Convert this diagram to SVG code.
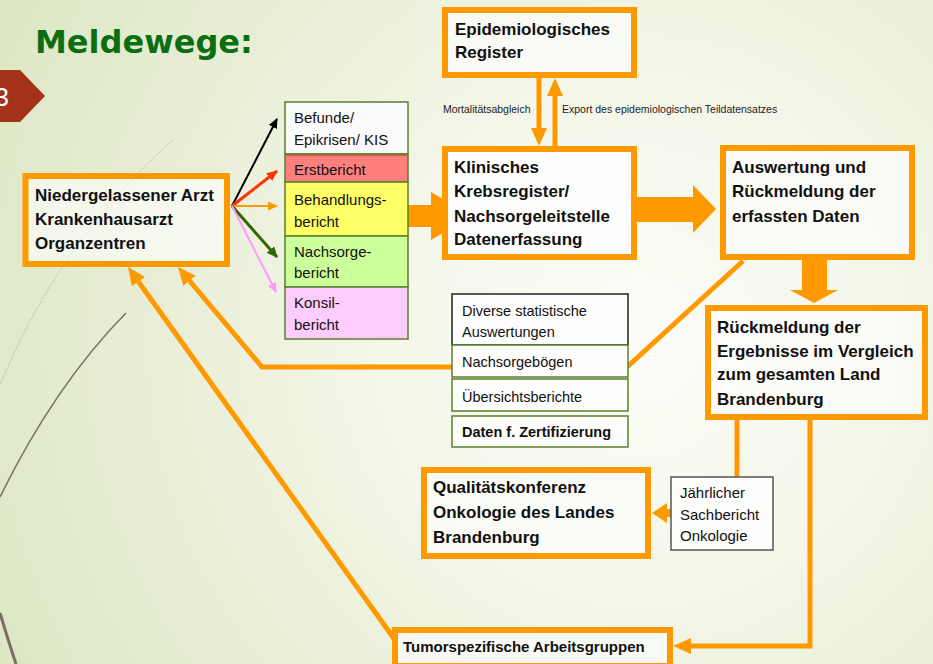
<svg xmlns="http://www.w3.org/2000/svg" width="933" height="664" viewBox="0 0 933 664">
<defs>
<radialGradient id="bg" gradientUnits="userSpaceOnUse" cx="640" cy="340" r="760">
<stop offset="0" stop-color="#fcfdf8"/>
<stop offset="0.35" stop-color="#f3f6e8"/>
<stop offset="1" stop-color="#dbe5c0"/>
</radialGradient>
<marker id="ah" markerUnits="userSpaceOnUse" markerWidth="18" markerHeight="16" viewBox="0 0 18 16" refX="3" refY="8" orient="auto"><path d="M0,0 L18,8 L0,16 z" fill="#ff9900"/></marker>
<marker id="mk" markerUnits="userSpaceOnUse" markerWidth="10" markerHeight="9" viewBox="0 0 10 9" refX="9" refY="4.5" orient="auto"><path d="M0,0 L10,4.5 L0,9 z" fill="#000"/></marker>
<marker id="mr" markerUnits="userSpaceOnUse" markerWidth="11" markerHeight="10" viewBox="0 0 11 10" refX="10" refY="5" orient="auto"><path d="M0,0 L11,5 L0,10 z" fill="#ff3300"/></marker>
<marker id="mo" markerUnits="userSpaceOnUse" markerWidth="10" markerHeight="9" viewBox="0 0 10 9" refX="9" refY="4.5" orient="auto"><path d="M0,0 L10,4.5 L0,9 z" fill="#ff9900"/></marker>
<marker id="mg" markerUnits="userSpaceOnUse" markerWidth="11" markerHeight="10" viewBox="0 0 11 10" refX="10" refY="5" orient="auto"><path d="M0,0 L11,5 L0,10 z" fill="#336600"/></marker>
<marker id="mp" markerUnits="userSpaceOnUse" markerWidth="10" markerHeight="9" viewBox="0 0 10 9" refX="9" refY="4.5" orient="auto"><path d="M0,0 L10,4.5 L0,9 z" fill="#ff99ff"/></marker>
</defs>
<style>
.ob{fill:#ffffff;fill-opacity:.6;stroke:#ff9900;stroke-width:6}
.bt{font-family:"Liberation Sans",Arial,sans-serif;font-weight:bold;font-size:17px;fill:#111}
.rt{font-family:"Liberation Sans",Arial,sans-serif;font-size:15px;fill:#111}
.st{font-family:"Liberation Sans",Arial,sans-serif;font-size:10.5px;fill:#222}
.cb{stroke:#5b7f2a;stroke-width:1.5}
.con{fill:none;stroke:#ff9900;stroke-width:5}
.blk{fill:#ff9900}
</style>
<rect width="933" height="664" fill="url(#bg)"/>
<g id="decor" fill="none">
<path d="M173,140 Q60,240 0,385" stroke="#b5b5a5" stroke-width="1" stroke-dasharray="3,1" opacity="0.7"/>
<path d="M126,313 Q55,385 0,497" stroke="#7a7060" stroke-width="1.5"/>
<path d="M0,613 Q8,640 16,664" stroke="#7a7060" stroke-width="3"/>
</g>
<g id="title">
<text x="35" y="53" font-family="DejaVu Sans,sans-serif" font-weight="bold" font-size="32" fill="#0b6e12">Meldewege:</text>
<polygon points="0,70 20,70 45,96 20,122 0,122" fill="#a33218"/>
<text x="9" y="106" text-anchor="end" font-family="Liberation Sans,sans-serif" font-size="26" fill="#fff">3</text>
</g>
<g id="connectors">
<line x1="232" y1="206" x2="277" y2="119" stroke="#000" stroke-width="2" marker-end="url(#mk)"/>
<line x1="232" y1="206" x2="277" y2="171" stroke="#ff3300" stroke-width="3" marker-end="url(#mr)"/>
<line x1="232" y1="206" x2="277" y2="206" stroke="#ff9900" stroke-width="2" marker-end="url(#mo)"/>
<line x1="232" y1="206" x2="277" y2="257" stroke="#336600" stroke-width="3" marker-end="url(#mg)"/>
<line x1="232" y1="206" x2="276" y2="292" stroke="#ff99ff" stroke-width="2" marker-end="url(#mp)"/>
<polygon class="blk" points="408,205 431,205 431,192 443,199 443,233 431,240 431,227 408,227"/>
<polygon class="blk" points="637,197 693,197 693,185 716,209 693,233 693,222 637,222"/>
<polygon class="blk" points="802,258 827,258 827,290 838,290 814,303 790,290 802,290"/>
<line class="con" x1="539" y1="78" x2="539" y2="131" marker-end="url(#ah)"/>
<line class="con" x1="555" y1="148" x2="555" y2="93" marker-end="url(#ah)"/>
<polyline class="con" points="743,261 627,367 262,367 187.6,278.5" marker-end="url(#ah)"/>
<line class="con" x1="395" y1="640" x2="136.7" y2="279.2" marker-end="url(#ah)"/>
<polyline class="con" points="810,420 810,646 688,646" marker-end="url(#ah)"/>
<line class="con" x1="737" y1="420" x2="737" y2="477"/>
<polygon class="blk" points="671,509 667,509 667,503 652,513 667,523 667,517 671,517"/>
</g>
<g id="n-arzt">
<rect class="ob" x="25.5" y="176" width="201.5" height="88"/>
<text class="bt" x="35" y="201">Niedergelassener Arzt</text>
<text class="bt" x="35" y="225">Krankenhausarzt</text>
<text class="bt" x="35" y="249">Organzentren</text>
</g>
<g id="n-berichte">
<rect class="cb" x="285" y="102" width="123" height="52" fill="#fbfbfb"/>
<text class="rt" x="294" y="123">Befunde/</text>
<text class="rt" x="294" y="145">Epikrisen/ KIS</text>
<rect class="cb" x="285" y="154" width="123" height="28" fill="#ff7f7f"/>
<line x1="285.5" y1="155.5" x2="407.5" y2="155.5" stroke="#d9533a" stroke-width="1"/>
<text class="rt" x="294" y="175">Erstbericht</text>
<rect class="cb" x="285" y="182" width="123" height="54" fill="#ffff66"/>
<text class="rt" x="294" y="205">Behandlungs-</text>
<text class="rt" x="294" y="227">bericht</text>
<rect class="cb" x="285" y="236" width="123" height="51" fill="#ccff99"/>
<text class="rt" x="294" y="257">Nachsorge-</text>
<text class="rt" x="294" y="278">bericht</text>
<rect class="cb" x="285" y="287" width="123" height="52" fill="#ffccff"/>
<text class="rt" x="294" y="308">Konsil-</text>
<text class="rt" x="294" y="330">bericht</text>
</g>
<g id="n-epi">
<rect class="ob" x="445" y="10" width="189" height="65"/>
<text class="bt" x="455" y="35">Epidemiologisches</text>
<text class="bt" x="455" y="58">Register</text>
</g>
<g id="labels-epi">
<text class="st" x="443" y="113">Mortalitätsabgleich</text>
<text class="st" x="562" y="113">Export des epidemiologischen Teildatensatzes</text>
</g>
<g id="n-klinisch">
<rect class="ob" x="445" y="149" width="189" height="108" style="fill-opacity:.85"/>
<text class="bt" x="454" y="173">Klinisches</text>
<text class="bt" x="454" y="197">Krebsregister/</text>
<text class="bt" x="454" y="222">Nachsorgeleitstelle</text>
<text class="bt" x="454" y="245">Datenerfassung</text>
</g>
<g id="n-auswertung">
<rect class="ob" x="723" y="148" width="189" height="109"/>
<text class="bt" x="732" y="173">Auswertung und</text>
<text class="bt" x="732" y="197">Rückmeldung der</text>
<text class="bt" x="732" y="222">erfassten Daten</text>
</g>
<g id="n-rueckmeldung">
<rect class="ob" x="708" y="308" width="217" height="109"/>
<text class="bt" x="717" y="333">Rückmeldung der</text>
<text class="bt" x="717" y="357">Ergebnisse im Vergleich</text>
<text class="bt" x="717" y="380">zum gesamten Land</text>
<text class="bt" x="717" y="405">Brandenburg</text>
</g>
<g id="n-auswertungen">
<rect x="452" y="294" width="176" height="51" fill="#fdfdfb" stroke="#222" stroke-width="1.5"/>
<text class="rt" x="462" y="316" style="font-size:14.5px">Diverse statistische</text>
<text class="rt" x="462" y="337" style="font-size:14.5px">Auswertungen</text>
<rect class="cb" x="452" y="345" width="176" height="32" fill="#fdfdfb"/>
<text class="rt" x="462" y="367" style="font-size:14.5px">Nachsorgebögen</text>
<rect class="cb" x="452" y="379" width="176" height="32" fill="#fdfdfb"/>
<text class="rt" x="462" y="402" style="font-size:14.5px">Übersichtsberichte</text>
<rect class="cb" x="452" y="416" width="176" height="31" fill="#fdfdfb"/>
<text class="bt" x="462" y="437" style="font-size:14.5px">Daten f. Zertifizierung</text>
</g>
<g id="n-jaehrlich">
<rect x="671" y="477" width="102" height="73" fill="#fdfdfb" stroke="#555" stroke-width="1.5"/>
<text class="rt" x="680" y="498">Jährlicher</text>
<text class="rt" x="680" y="520">Sachbericht</text>
<text class="rt" x="680" y="541">Onkologie</text>
</g>
<g id="n-qualitaet">
<rect class="ob" x="424" y="470" width="224" height="86"/>
<text class="bt" x="433" y="493">Qualitätskonferenz</text>
<text class="bt" x="433" y="518">Onkologie des Landes</text>
<text class="bt" x="433" y="543">Brandenburg</text>
</g>
<g id="n-tumor">
<rect class="ob" x="395" y="630" width="275" height="36"/>
<text class="bt" x="403" y="652" style="font-size:15px">Tumorspezifische Arbeitsgruppen</text>
</g>
</svg>
